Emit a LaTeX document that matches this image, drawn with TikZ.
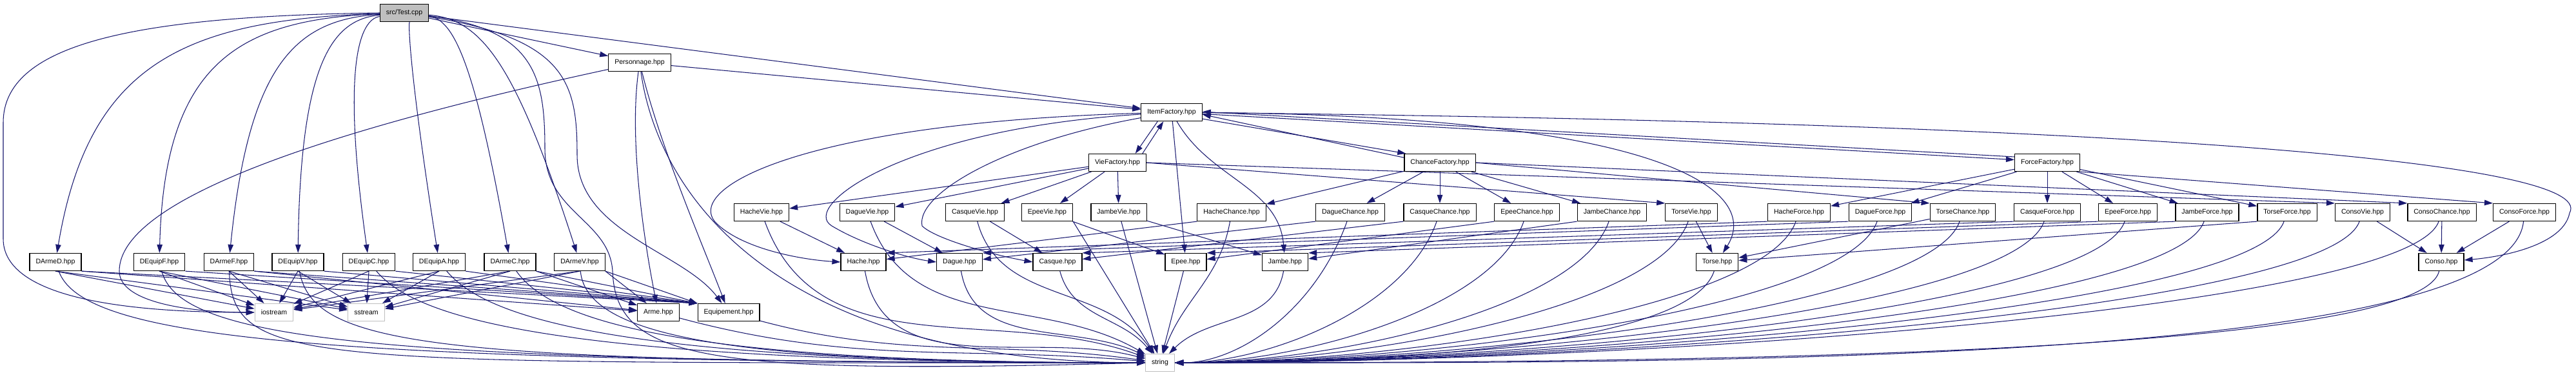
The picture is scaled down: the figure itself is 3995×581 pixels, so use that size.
\documentclass[tikz,border=0pt]{standalone}
\usepackage{fontspec}
\setmainfont{Liberation Sans}
\usetikzlibrary{arrows.meta, backgrounds}
\definecolor{edgeblue}{HTML}{191970}
\definecolor{sysgray}{HTML}{BFBFBF}
\tikzset{
  hdr/.style = {draw=black, rectangle, fill=white, line width=0.7pt,
                minimum height=0.54cm, inner xsep=0.19cm, inner ysep=0pt,
                font=\fontsize{6}{7}\selectfont},
  sys/.style = {hdr, draw=sysgray},
  src/.style = {hdr, fill=sysgray},
  inc/.style = {-{Triangle[length=0.26cm, width=0.17cm]}, draw=edgeblue,
                line width=0.6pt},
}

\begin{document}
\begin{tikzpicture}[x=0.02cm, y=-0.02cm]
\useasboundingbox (0,0) rectangle (3995,581);

% ────────────────────────────────────────────────────────────
%  Rows (y, in px of the reference):
%   src/Test.cpp 20 | Personnage 97 | ItemFactory 174
%   factories 252  | product headers 329 | items 406
%   iostream / Arme 484 | string 562
% ────────────────────────────────────────────────────────────

% ── top of the graph ────────────────────────────────────────
\node[src] (test)      at (627,20)   {src/Test.cpp};
\node[hdr] (perso)     at (992,97)   {Personnage.hpp};
\node[hdr] (itemf)     at (1817,174) {ItemFactory.hpp};
\node[hdr] (viefac)    at (1733,252) {VieFactory.hpp};
\node[hdr] (chancefac) at (2233,252) {ChanceFactory.hpp};
\node[hdr] (forcefac)  at (3175,252) {ForceFactory.hpp};

% ── product headers ─────────────────────────────────────────
\foreach \nm/\px/\lbl in {hachevie/1181/HacheVie, daguevie/1345/DagueVie,
    casquevie/1512/CasqueVie, epeevie/1624/EpeeVie, jambevie/1735/JambeVie,
    hachechance/1910/HacheChance, daguechance/2094/DagueChance,
    casquechance/2233/CasqueChance, epeechance/2368/EpeeChance,
    jambechance/2500/JambeChance, torsevie/2623/TorseVie,
    hacheforce/2790/HacheForce, dagueforce/2916/DagueForce,
    torsechance/3044/TorseChance, casqueforce/3175/CasqueForce,
    epeeforce/3300/EpeeForce, jambeforce/3423/JambeForce,
    torseforce/3547/TorseForce, consovie/3664/ConsoVie,
    consochance/3787/ConsoChance, consoforce/3915/ConsoForce}
  \node[hdr] (\nm) at (\px,329) {\lbl.hpp};

% ── decorators and items ────────────────────────────────────
\foreach \nm/\px/\lbl in {darmed/86/DArmeD, dequipf/247/DEquipF,
    darmef/355/DArmeF, dequipv/462/DEquipV, dequipc/572/DEquipC,
    dequipa/681/DEquipA, darmec/791/DArmeC, darmev/899/DArmeV,
    hache/1339/Hache, dague/1488/Dague, casque/1640/Casque,
    epee/1839/Epee, jambe/1993/Jambe, torse/2663/Torse, conso/3786/Conso}
  \node[hdr] (\nm) at (\px,406) {\lbl.hpp};

% ── bottom rows ─────────────────────────────────────────────
\node[sys] (iostream) at (425,484)  {iostream};
\node[sys] (sstream)  at (568,484)  {sstream};
\node[hdr] (arme)     at (1021,484) {Arme.hpp};
\node[hdr] (equip)    at (1130,484) {Equipement.hpp};
\node[sys] (string)   at (1799,562) {string};

\begin{scope}[on background layer]
\fill[white] (0,0) rectangle (3995,581);

% ── src/Test.cpp ────────────────────────────────────────────
\draw[inc] (test.west) .. controls (200,25) and (5,70) .. (5,190) -- (5,370)
  .. controls (5,450) and (150,484) .. (iostream.west);
\foreach \nm/\cx/\tx in {darmed/284/137, dequipf/367/255, darmef/458/386,
    dequipv/514/466, dequipc/558/529, dequipa/633/633, darmec/704/737,
    darmev/748/800}
  \draw[inc] (test) .. controls (\cx,30) and (\tx,100) .. (\nm);
\draw[inc] (test) -- (perso);
\draw[inc] (test) -- (itemf);
\draw[inc] (test) .. controls (830,45) and (845,120) .. (845,230)
  .. controls (845,330) and (945,340) .. (950,420)
  .. controls (955,560) and (1100,580) .. (string.west);
\draw[inc] (test) .. controls (880,60) and (895,130) .. (895,240)
  .. controls (895,360) and (1060,390) .. (equip);

% ── Personnage.hpp ──────────────────────────────────────────
\draw[inc] (perso) -- (itemf);
\draw[inc] (perso) .. controls (560,190) and (185,300) .. (185,420)
  .. controls (185,470) and (300,484) .. (iostream.west);
\draw[inc] (perso) .. controls (975,220) and (1000,380) .. (arme);
\draw[inc] (perso) .. controls (1025,230) and (1090,380) .. (equip);
\draw[inc] (perso) .. controls (1020,300) and (1200,560) .. (string.west);

% ── ItemFactory.hpp ─────────────────────────────────────────
\draw[inc] (itemf.213) -- (viefac.27);
\draw[inc] (viefac.20) -- (itemf.228);
\draw[inc] (itemf.-12) -- (chancefac.165);
\draw[inc] (chancefac.172) -- (itemf.-4);
\draw[inc] (itemf.-3) -- (forcefac.175);
\draw[inc] (forcefac.170) -- (itemf.1);
\draw[inc] (itemf) .. controls (1250,190) and (1060,290) .. (1110,345)
  .. controls (1150,385) and (1240,402) .. (hache.west);
\draw[inc] (itemf) .. controls (1400,200) and (1240,320) .. (1290,350)
  .. controls (1340,380) and (1410,400) .. (dague.west);
\draw[inc] (itemf) .. controls (1560,220) and (1420,300) .. (1430,350)
  .. controls (1450,370) and (1540,395) .. (casque.west);
\draw[inc] (itemf) -- (epee);
\draw[inc] (itemf) to[out=-60, in=95] (jambe);
\draw[inc] (itemf) .. controls (2600,180) and (2730,300) .. (torse);
\draw[inc] (itemf) .. controls (3300,190) and (4030,250) .. (3985,330)
  .. controls (3975,380) and (3880,398) .. (conso);

% ── factories -> product headers ────────────────────────────
\foreach \nm in {hachevie, daguevie, casquevie, epeevie, jambevie}
  \draw[inc] (viefac) -- (\nm);
\draw[inc] (viefac.east) -- (torsevie.north west);
\draw[inc] (viefac.east) -- (consovie.north west);
\foreach \nm in {hachechance, daguechance, casquechance, epeechance, jambechance}
  \draw[inc] (chancefac) -- (\nm);
\draw[inc] (chancefac.east) -- (torsechance.north west);
\draw[inc] (chancefac.east) -- (consochance.north west);
\foreach \nm in {hacheforce, dagueforce, casqueforce, epeeforce,
                 jambeforce, torseforce}
  \draw[inc] (forcefac) -- (\nm);
\draw[inc] (forcefac.south east) -- (consoforce.north west);

% ── product headers -> items ────────────────────────────────
\foreach \src/\dst in {hachevie/hache, daguevie/dague, casquevie/casque,
    epeevie/epee, jambevie/jambe, torsevie/torse, torsechance/torse,
    consovie/conso, consochance/conso, consoforce/conso}
  \draw[inc] (\src) -- (\dst);
\foreach \src/\dst in {hachechance/hache, daguechance/dague,
    casquechance/casque, epeechance/epee, jambechance/jambe,
    torseforce/torse}
  \draw[inc] (\src.south west) -- (\dst);
\foreach \src/\dst in {hacheforce/hache, dagueforce/dague,
    casqueforce/casque, epeeforce/epee, jambeforce/jambe}
  \draw[inc] (\src.south west) -- (\dst.north east);

% ── decorators ──────────────────────────────────────────────
\foreach \nm/\ang/\dout/\din in {darmed/-70/2.2cm/26cm, darmef/-88/3cm/26cm,
    darmec/-55/2cm/14cm, darmev/-85/2.2cm/12cm} {
  \draw[inc] (\nm.south) -- (iostream);
  \draw[inc] (\nm.south) -- (sstream);
  \draw[inc] (\nm.south east) -- (arme);
  \draw[inc] (\nm.south east) -- (equip.north west);
  \draw[inc] (\nm) to[out=\ang, in=180, out distance=\dout,
                      in distance=\din] (string.west);
}
\foreach \nm/\ang/\dout/\din in {dequipf/-75/2.2cm/24cm, dequipv/-80/2.4cm/22cm,
    dequipc/-50/2cm/18cm, dequipa/-50/2cm/16cm} {
  \draw[inc] (\nm.south) -- (iostream);
  \draw[inc] (\nm.south) -- (sstream);
  \draw[inc] (\nm.south east) -- (equip.north west);
  \draw[inc] (\nm) to[out=\ang, in=180, out distance=\dout,
                      in distance=\din] (string.west);
}

% ── everything -> string ────────────────────────────────────
\draw[inc] (arme)  to[out=-15, in=175] (string);
\draw[inc] (equip) to[out=-15, in=172] (string);
\draw[inc] (hache)  to[out=-80, in=165] (string);
\draw[inc] (dague)  to[out=-80, in=155] (string);
\draw[inc] (casque) to[out=-75, in=130] (string);
\draw[inc] (epee) -- (string);
\draw[inc] (jambe)  to[out=-100, in=45] (string);
\draw[inc] (hachevie)  to[out=-70, in=160] (string);
\draw[inc] (daguevie)  to[out=-70, in=150] (string);
\draw[inc] (casquevie) to[out=-75, in=125] (string);
\draw[inc] (epeevie.south east) -- (string);
\draw[inc] (jambevie) -- (string);
\draw[inc] (hachechance) to[out=-100, in=70] (string);
\foreach \nm/\ax/\ay/\bx in {daguechance/2040/480/1922,
    casquechance/2180/480/1962, epeechance/2315/480/2012,
    jambechance/2447/480/2062, torsevie/2570/480/2102,
    torse/2618/540/2122, hacheforce/2737/480/2162,
    dagueforce/2863/480/2202, torsechance/2991/480/2252,
    casqueforce/3122/480/2292, epeeforce/3247/480/2342,
    jambeforce/3370/480/2382, torseforce/3494/480/2422,
    consovie/3611/480/2472, consochance/3734/480/2512,
    consoforce/3890/571/2552, conso/3750/555/2512}
  \draw[inc] (\nm) .. controls (\ax,\ay) and (\bx,562) .. (string.east);
\end{scope}

\end{tikzpicture}
\end{document}
